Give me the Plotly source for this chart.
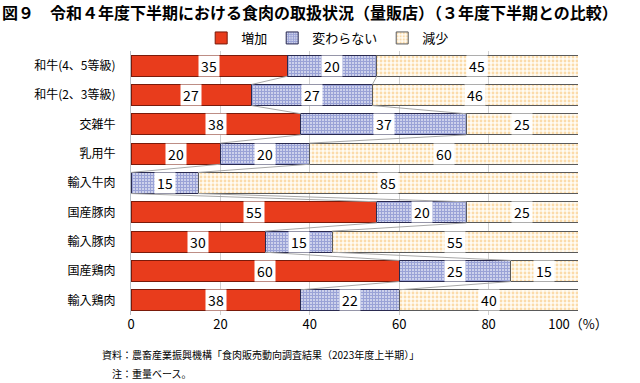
import plotly.graph_objects as go

categories = ["和牛(4、5等級)", "和牛(2、3等級)", "交雑牛", "乳用牛", "輸入牛肉",
              "国産豚肉", "輸入豚肉", "国産鶏肉", "輸入鶏肉"]
increase = [35, 27, 38, 20, 0, 55, 30, 60, 38]
unchanged = [20, 27, 37, 20, 15, 20, 15, 25, 22]
decrease = [45, 46, 25, 60, 85, 25, 55, 15, 40]
series_names = ["増加", "変わらない", "減少"]
x_ticks = [0, 20, 40, 60, 80, 100]
x_ticktext = ["0", "20", "40", "60", "80", "100（%）"]

FONT = "Noto Sans CJK JP"
BW = 0.72
ypos = list(range(len(categories)))

fig = go.Figure()
fig.add_trace(go.Bar(
    y=ypos, x=increase, orientation="h", name=series_names[0], width=BW,
    marker=dict(color="#E83C1C", line=dict(color="#7a1a0a", width=1)),
))
fig.add_trace(go.Bar(
    y=ypos, x=unchanged, orientation="h", name=series_names[1], width=BW,
    marker=dict(color="#3D4BB5", line=dict(color="#2a2a50", width=1),
                pattern=dict(shape="+", fgcolor="#3646AE", bgcolor="white",
                             size=3, solidity=0.8)),
))
fig.add_trace(go.Bar(
    y=ypos, x=decrease, orientation="h", name=series_names[2], width=BW,
    marker=dict(color="#F6B04A", line=dict(color="#5a5a5a", width=1),
                pattern=dict(shape=".", fgcolor="#F8BC62", bgcolor="#FFFBF3",
                             size=4, solidity=0.4)),
))

# series lines between bars
b1 = increase
b2 = [a + b for a, b in zip(increase, unchanged)]
for bounds in (b1, b2):
    xs, ys = [], []
    for i in range(len(categories) - 1):
        xs += [bounds[i], bounds[i + 1], None]
        ys += [i + BW / 2, i + 1 - BW / 2, None]
    fig.add_trace(go.Scatter(x=xs, y=ys, mode="lines", showlegend=False,
                             line=dict(color="#A8A8A8", width=1), hoverinfo="skip"))

# value labels
annotations = []
for i in range(len(categories)):
    start = 0
    for vals in (increase, unchanged, decrease):
        v = vals[i]
        if v > 0:
            annotations.append(dict(
                x=start + v / 2, y=i, xref="x", yref="y", text=str(v),
                showarrow=False, bgcolor="white", width=20, height=20,
                borderpad=0, font=dict(family=FONT, size=14, color="black")))
        start += v

annotations.append(dict(
    xref="paper", yref="paper", x=-131 / 447, y=1 + 39 / 264, xanchor="left", yanchor="middle",
    text="<b>図９　令和４年度下半期における食肉の取扱状況（量販店）（３年度下半期との比較）</b>",
    showarrow=False, font=dict(family=FONT, size=16, color="black")))
annotations.append(dict(
    xref="paper", yref="paper", x=(100 - 131) / 447, y=-(354 - 315) / 264,
    xanchor="left", yanchor="middle",
    text="資料：農畜産業振興機構「食肉販売動向調査結果（2023年度上半期）」",
    showarrow=False, font=dict(family=FONT, size=10, color="black")))
annotations.append(dict(
    xref="paper", yref="paper", x=(110 - 131) / 447, y=-(373 - 315) / 264,
    xanchor="left", yanchor="middle",
    text="注：重量ベース。",
    showarrow=False, font=dict(family=FONT, size=10, color="black")))

fig.update_layout(
    barmode="stack",
    width=640, height=383,
    margin=dict(l=131, r=62, t=51, b=68),
    paper_bgcolor="white", plot_bgcolor="white",
    font=dict(family=FONT, size=13, color="black"),
    showlegend=True,
    legend=dict(orientation="h", x=0.44, xanchor="center", y=1 + 13 / 264, yanchor="middle",
                font=dict(family=FONT, size=13), itemwidth=30, traceorder="normal",
                bgcolor="rgba(0,0,0,0)"),
    annotations=annotations,
    xaxis=dict(range=[0, 100], tickvals=x_ticks, ticktext=x_ticktext,
               showgrid=True, gridcolor="#D0D0D0", gridwidth=1, zeroline=False,
               ticks="", showline=False, tickfont=dict(size=13), fixedrange=True),
    yaxis=dict(range=[len(categories) - 0.5, -0.5], tickvals=ypos, ticktext=categories,
               showgrid=False, zeroline=False, showline=True, linecolor="#B8C0C8",
               ticks="", ticklabelstandoff=12, tickfont=dict(size=12), fixedrange=True),
)

fig.write_html("out.html", config={"displayModeBar": False},
               post_script="document.body.style.margin='0';")
